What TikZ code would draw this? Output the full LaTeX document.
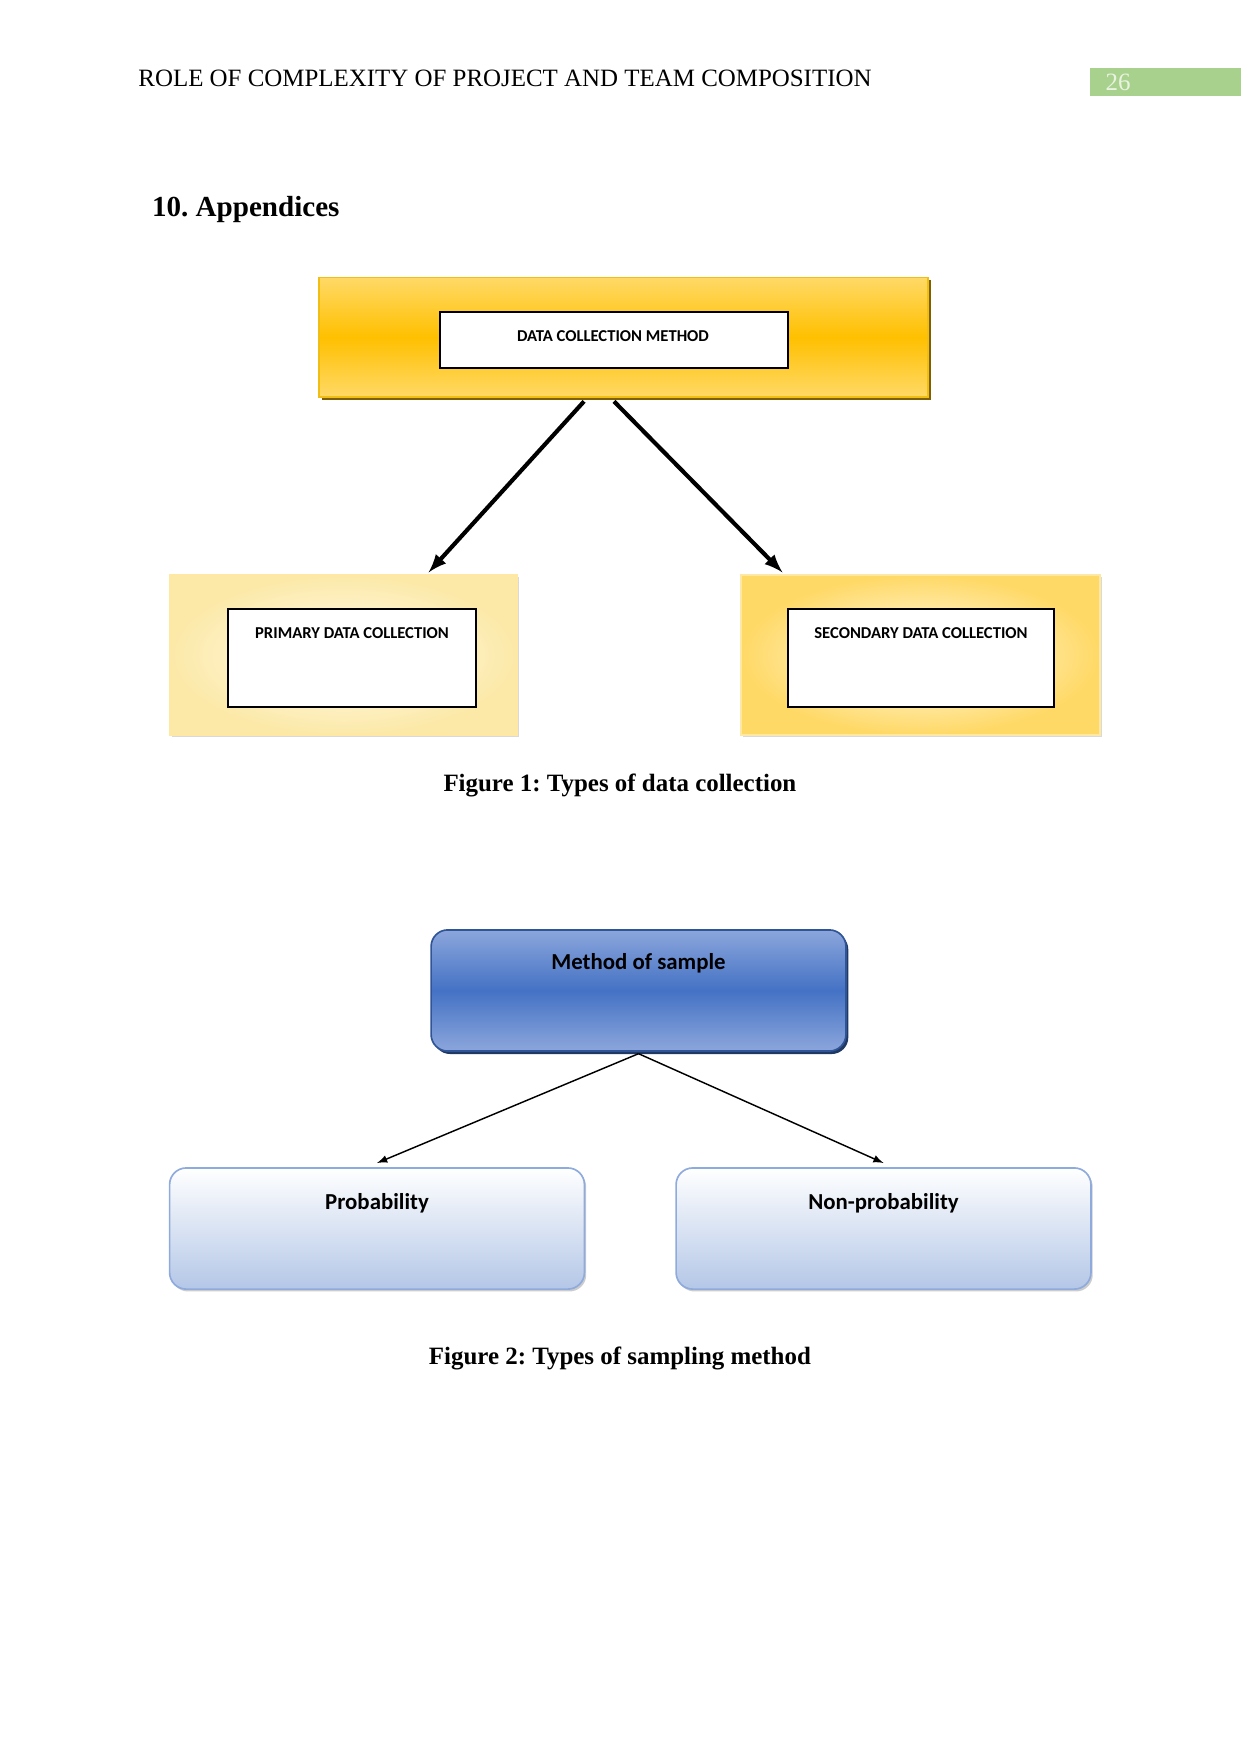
\documentclass[tikz,border=0pt]{standalone}
\usepackage{fontspec}
\setmainfont{Liberation Serif}
\newfontfamily\boxfont{Carlito}
\usepackage{xcolor}
\usetikzlibrary{arrows, positioning, calc, shadows}
\definecolor{goldfill}{RGB}{255, 192, 0}
\definecolor{goldlight}{RGB}{255, 217, 102}
\definecolor{goldedge}{RGB}{240, 190, 20}
\definecolor{goldshadow}{RGB}{127, 96, 0}
\definecolor{palegold}{RGB}{252, 233, 168}
\definecolor{creamwhite}{RGB}{255, 252, 240}
\definecolor{blueaccent}{RGB}{68, 114, 196}
\definecolor{bluelight}{RGB}{140, 166, 220}
\definecolor{bluedark}{RGB}{47, 85, 151}
\definecolor{blueshadow}{RGB}{31, 56, 100}
\definecolor{paleblue}{RGB}{180, 199, 231}
\definecolor{blueborder}{RGB}{143, 170, 220}
\definecolor{headergreen}{RGB}{169, 209, 142}
\definecolor{headertext}{RGB}{232, 243, 224}
\frenchspacing

\tikzset{
    goldbox/.style={draw=goldedge, line width=0.8pt, top color=goldlight, bottom color=goldlight,
        middle color=goldfill, drop shadow={shadow xshift=0.05cm, shadow yshift=-0.05cm, fill=goldshadow, opacity=1}},
    creambox/.style={draw=goldlight!60, line width=0.6pt,
        drop shadow={shadow xshift=0.04cm, shadow yshift=-0.04cm, fill=black!15, opacity=1}},
    whitebox/.style={draw=black, line width=0.8pt, fill=white},
    capslabel/.style={font=\boxfont\bfseries\fontsize{8}{10}\selectfont, inner sep=0pt},
    bluebox/.style={rounded corners=8pt, line width=0.8pt, minimum width=7.02cm, minimum height=2.05cm},
    titlelabel/.style={font=\boxfont\bfseries\fontsize{11}{13}\selectfont, inner sep=0pt, anchor=base},
    caption/.style={font=\bfseries\fontsize{12}{14}\selectfont, inner sep=0pt, anchor=base}
}

\begin{document}
\begin{tikzpicture}
    \useasboundingbox (0,0) rectangle (21.0,-29.681);

    \node[anchor=base west, inner sep=0pt, font=\fontsize{12}{14}\selectfont] (runhead) at (2.335,-1.472)
        {ROLE OF COMPLEXITY OF PROJECT AND TEAM COMPOSITION};
    \node[fill=headergreen, anchor=west, inner sep=0pt, minimum width=2.55cm, minimum height=0.48cm] (pagebox) at (18.445,-1.39) {};
    \node[anchor=base, inner sep=0pt, text=headertext, font=\fontsize{12}{14}\selectfont] (pagenum) at (18.92,-1.535) {26};
    \node[anchor=base west, inner sep=0pt, font=\bfseries\fontsize{14}{17}\selectfont] (section) at (2.567,-3.672) {10. Appendices};

    \node[goldbox, minimum width=10.306cm, minimum height=2.022cm] (dcm) at (10.551,-5.707) {};
    \node[whitebox, minimum width=5.889cm, minimum height=0.948cm] (dcmin) at (10.390,-5.753) {};
    \node[capslabel] (dcmtext) at (10.373,-5.686) {DATA COLLECTION METHOD};

    \node[creambox, inner color=creamwhite, outer color=palegold, minimum width=5.872cm, minimum height=2.708cm] (prim) at (5.813,-11.084) {};
    \node[whitebox, minimum width=4.197cm, minimum height=1.658cm] (primin) at (5.957,-11.135) {};
    \node[capslabel, below=0.315cm of primin.north] (primtext) {PRIMARY DATA COLLECTION};

    \node[creambox, inner color=creamwhite, outer color=goldlight, minimum width=6.075cm, minimum height=2.708cm] (sec) at (15.577,-11.084) {};
    \node[whitebox, minimum width=4.501cm, minimum height=1.658cm] (secin) at (15.585,-11.135) {};
    \node[capslabel, below=0.315cm of secin.north] (sectext) {SECONDARY DATA COLLECTION};

    \draw[-latex, line width=2pt] ([xshift=-0.668cm, yshift=-0.06cm]dcm.south) -- ([xshift=1.44cm, yshift=0.034cm]prim.north);
    \draw[-latex, line width=2pt] ([xshift=-0.161cm, yshift=-0.06cm]dcm.south) -- ([xshift=0.711cm, yshift=0.034cm]sec.north west);

    \node[caption] (figone) at (10.49,-13.40) {Figure 1: Types of data collection};

    \node[bluebox, draw=bluedark, top color=bluelight, bottom color=bluelight, middle color=blueaccent,
          drop shadow={shadow xshift=0.04cm, shadow yshift=-0.05cm, fill=blueshadow, opacity=1}] (meth) at (10.805,-16.761) {};
    \node[titlelabel] (methtext) at ([yshift=-0.677cm]meth.north) {Method of sample};

    \node[bluebox, draw=blueborder, top color=white, bottom color=paleblue,
          drop shadow={shadow xshift=0.03cm, shadow yshift=-0.04cm, fill=black!20, opacity=1}] (prob) at (6.380,-20.789) {};
    \node[titlelabel] (probtext) at ([yshift=-0.711cm]prob.north) {Probability};

    \node[bluebox, draw=blueborder, top color=white, bottom color=paleblue,
          drop shadow={shadow xshift=0.03cm, shadow yshift=-0.04cm, fill=black!20, opacity=1}] (nonp) at (14.951,-20.789) {};
    \node[titlelabel] (nonptext) at ([yshift=-0.711cm]nonp.north) {Non-probability};

    \draw[-latex, line width=0.7pt] ([yshift=-0.03cm]meth.south) -- ([yshift=0.07cm]prob.north);
    \draw[-latex, line width=0.7pt] ([yshift=-0.03cm]meth.south) -- ([yshift=0.07cm]nonp.north);

    \node[caption] (figtwo) at (10.49,-23.09) {Figure 2: Types of sampling method};
\end{tikzpicture}
\end{document}
